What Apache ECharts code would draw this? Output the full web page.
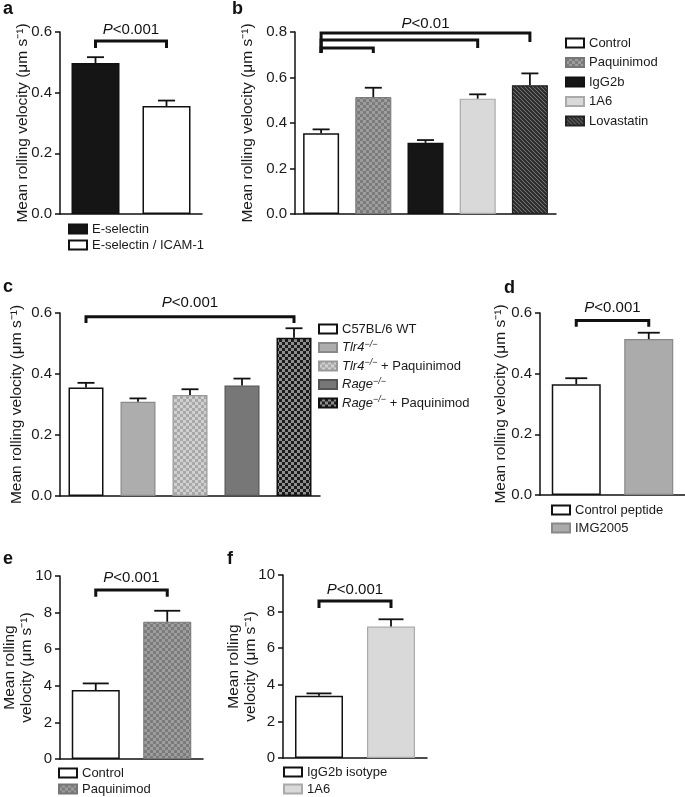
<!DOCTYPE html>
<html><head><meta charset="utf-8">
<script src="https://cdn.jsdelivr.net/npm/echarts@6/dist/echarts.min.js"></script>
<style>html,body{margin:0;padding:0;background:#fff}#c{width:685px;height:797px}</style>
</head><body><div id="c"></div>
<script>
// ---------- data ----------
const catsA = ['E-selectin', 'E-selectin / ICAM-1'];
const meanA = [0.498, 0.356];
const errA  = [0.019, 0.018];

const catsB = ['Control', 'Paquinimod', 'IgG2b', '1A6', 'Lovastatin'];
const meanB = [0.355, 0.514, 0.313, 0.507, 0.566];
const errB  = [0.017, 0.041, 0.012, 0.019, 0.052];

const catsC = ['C57BL/6 WT', 'Tlr4−/−', 'Tlr4−/− + Paquinimod', 'Rage−/−', 'Rage−/− + Paquinimod'];
const meanC = [0.356, 0.309, 0.331, 0.362, 0.519];
const errC  = [0.015, 0.011, 0.019, 0.023, 0.031];

const catsD = ['Control peptide', 'IMG2005'];
const meanD = [0.365, 0.514];
const errD  = [0.020, 0.021];

const catsE = ['Control', 'Paquinimod'];
const meanE = [3.77, 7.50];
const errE  = [0.36, 0.60];

const catsF = ['IgG2b isotype', '1A6'];
const meanF = [3.40, 7.18];
const errF  = [0.13, 0.40];

// significance brackets: [fromIndex, toIndex, top, leftLegBottom, rightLegBottom]
const bracketsA = [[0, 1, 0.570, 0.547, 0.547]];
const bracketsB = [[0, 4, 0.796, 0.708, 0.756], [0, 3, 0.765, 0.708, 0.730], [0, 1, 0.730, 0.708, 0.708]];
const bracketsC = [[0, 4, 0.588, 0.567, 0.567]];
const bracketsD = [[0, 1, 0.575, 0.555, 0.555]];
const bracketsE = [[0, 1, 9.23, 8.87, 8.87]];
const bracketsF = [[0, 1, 8.58, 8.20, 8.20]];
const pA = '<0.001', pB = '<0.01', pC = '<0.001', pD = '<0.001', pE = '<0.001', pF = '<0.001';

const yTicksA = [0, 0.6, 0.2], yTicksB = [0, 0.8, 0.2], yTicksE = [0, 10, 2];
const yNameLong = 'Mean rolling velocity (μm s⁻¹)';
const yNameTwo = 'Mean rolling\nvelocity (μm s⁻¹)';

// ---------- styles ----------
const FF = '"Liberation Sans", Arial, Helvetica, sans-serif';
function checker(c1, c2, s) {
  const cv = document.createElement('canvas'); cv.width = cv.height = s * 2;
  const g = cv.getContext('2d');
  g.fillStyle = c1; g.fillRect(0, 0, 2 * s, 2 * s);
  g.fillStyle = c2; g.fillRect(0, 0, s, s); g.fillRect(s, s, s, s);
  return { image: cv, repeat: 'repeat' };
}
function stripes(bg, fg, p) {
  const cv = document.createElement('canvas'); cv.width = cv.height = p;
  const g = cv.getContext('2d');
  g.fillStyle = bg; g.fillRect(0, 0, p, p);
  g.strokeStyle = fg; g.lineWidth = p * 0.55;
  g.beginPath();
  g.moveTo(-1, -1); g.lineTo(p + 1, p + 1);
  g.moveTo(-1, p - 1); g.lineTo(1, p + 1);
  g.moveTo(p - 1, -1); g.lineTo(p + 1, 1);
  g.stroke();
  return { image: cv, repeat: 'repeat' };
}
const white = { color: '#ffffff', borderColor: '#111', borderWidth: 1.5 };
const styles = {
  'E-selectin': { color: '#151515', borderColor: '#111', borderWidth: 1.5 },
  'E-selectin / ICAM-1': white,
  'Control': white,
  'Paquinimod': { color: checker('#9d9d9d', '#7b7b7b', 3), borderColor: '#777', borderWidth: 1 },
  'IgG2b': { color: '#161616', borderColor: '#111', borderWidth: 1.5 },
  '1A6': { color: '#d9d9d9', borderColor: '#aaa', borderWidth: 1.2 },
  'Lovastatin': { color: stripes('#8d8d8d', '#2a2a2a', 4), borderColor: '#222', borderWidth: 1.2 },
  'C57BL/6 WT': white,
  'Tlr4−/−': { color: '#adadad', borderColor: '#8a8a8a', borderWidth: 1.2 },
  'Tlr4−/− + Paquinimod': { color: checker('#d0d0d0', '#a8a8a8', 3), borderColor: '#999', borderWidth: 1.2 },
  'Rage−/−': { color: '#777777', borderColor: '#555', borderWidth: 1.2 },
  'Rage−/− + Paquinimod': { color: checker('#8e8e8e', '#1c1c1c', 3), borderColor: '#111', borderWidth: 1.5 },
  'Control peptide': white,
  'IMG2005': { color: '#ababab', borderColor: '#888', borderWidth: 1.2 },
  'IgG2b isotype': white
};

// ---------- layout ----------
const panels = [
  { cats: catsA, mean: meanA, err: errA, br: bracketsA, p: pA, ticks: yTicksA, dec: 1, name: yNameLong, nameGap: 29,
    grid: { left: 60, top: 32, width: 142, height: 182 }, barW: 48, cap: 17, tOff: 11,
    legend: { left: 68, top: 221, itemGap: 0 }, letter: ['a', 3, 0] },
  { cats: catsB, mean: meanB, err: errB, br: bracketsB, p: pB, ticks: yTicksB, dec: 1, name: yNameLong, nameGap: 38.5,
    grid: { left: 295, top: 32, width: 261, height: 182 }, barW: 36, cap: 17, tOff: 9,
    legend: { left: 565, top: 35, itemGap: 3.5 }, letter: ['b', 232, 0] },
  { cats: catsC, mean: meanC, err: errC, br: bracketsC, p: pC, ticks: yTicksA, dec: 1, name: yNameLong, nameGap: 35,
    grid: { left: 60, top: 313, width: 260, height: 183 }, barW: 35, cap: 17, tOff: 13.5,
    legend: { left: 318, top: 321, itemGap: 2.5 }, letter: ['c', 3, 278] },
  { cats: catsD, mean: meanD, err: errD, br: bracketsD, p: pD, ticks: yTicksA, dec: 1, name: yNameLong, nameGap: 30.5,
    grid: { left: 540, top: 313, width: 145, height: 182 }, barW: 49, cap: 22, tOff: 12.5,
    legend: { left: 551, top: 502, itemGap: 2 }, letter: ['d', 504, 279] },
  { cats: catsE, mean: meanE, err: errE, br: bracketsE, p: pE, ticks: yTicksE, dec: 0, name: yNameTwo, nameGap: 24.5,
    grid: { left: 60, top: 576, width: 143, height: 183 }, barW: 48, cap: 26, tOff: 12,
    legend: { left: 58, top: 765, itemGap: 0 }, letter: ['e', 3, 550] },
  { cats: catsF, mean: meanF, err: errF, br: bracketsF, p: pF, ticks: yTicksE, dec: 0, name: yNameTwo, nameGap: 24,
    grid: { left: 283, top: 575, width: 144, height: 183 }, barW: 48, cap: 25, tOff: 11,
    legend: { left: 283, top: 764, itemGap: 1 }, letter: ['f', 227, 550] }
];

const richLegend = {
  i: { fontStyle: 'italic', fontSize: 13, fontFamily: FF, color: '#1a1a1a' },
  s: { fontStyle: 'italic', fontSize: 9, fontFamily: FF, color: '#1a1a1a', verticalAlign: 'top', padding: [0, 0, 5, 0] },
  n: { fontSize: 13, fontFamily: FF, color: '#1a1a1a' }
};
function legendFmt(n) {
  const m = n.match(/^(Tlr4|Rage)−\/−(.*)$/);
  if (m) return '{i|' + m[1] + '}{s|−/−}' + (m[2] ? '{n|' + m[2] + '}' : '');
  return '{n|' + n + '}';
}

const option = { animation: false, backgroundColor: '#fff', grid: [], xAxis: [], yAxis: [], series: [], legend: [], graphic: [] };

panels.forEach((P, k) => {
  option.grid.push(Object.assign({ containLabel: false }, P.grid));
  option.xAxis.push({
    gridIndex: k, type: 'category', data: P.cats,
    axisLine: { show: true, lineStyle: { color: '#111', width: 1.5 } },
    axisTick: { show: false }, axisLabel: { show: false }
  });
  option.yAxis.push({
    gridIndex: k, type: 'value', min: P.ticks[0], max: P.ticks[1], interval: P.ticks[2],
    axisLine: { show: true, lineStyle: { color: '#111', width: 1.5 } },
    axisTick: { show: true, length: 5, lineStyle: { color: '#111', width: 1.5 } },
    splitLine: { show: false },
    axisLabel: { fontSize: 15, color: '#1a1a1a', fontFamily: FF, margin: 8, formatter: v => v.toFixed(P.dec) },
    name: P.name, nameLocation: 'middle', nameGap: P.nameGap, nameMoveOverlap: false,
    nameTextStyle: { fontSize: 15.5, color: '#1a1a1a', fontFamily: FF, lineHeight: 17 }
  });
  P.cats.forEach((c, i) => {
    option.series.push({
      type: 'bar', name: c, xAxisIndex: k, yAxisIndex: k,
      data: P.mean.map((v, j) => (j === i ? v : '-')),
      barWidth: P.barW, barGap: '-100%',
      itemStyle: styles[c], emphasis: { disabled: true }, z: 2
    });
  });
  // error bars
  const cap = P.cap;
  option.series.push({
    type: 'custom', xAxisIndex: k, yAxisIndex: k, z: 3, silent: true,
    data: P.mean.map((v, i) => [i, v, v + P.err[i]]),
    renderItem: (params, api) => {
      const x = api.value(0);
      const p0 = api.coord([x, api.value(1)]), p1 = api.coord([x, api.value(2)]);
      const st = { stroke: '#111', lineWidth: 1.8 };
      return { type: 'group', children: [
        { type: 'line', shape: { x1: p0[0], y1: p0[1], x2: p1[0], y2: p1[1] }, style: st },
        { type: 'line', shape: { x1: p1[0] - cap / 2, y1: p1[1], x2: p1[0] + cap / 2, y2: p1[1] }, style: st }
      ] };
    }
  });
  // brackets
  const tOff = P.tOff, ptxt = P.p;
  option.series.push({
    type: 'custom', xAxisIndex: k, yAxisIndex: k, z: 4, silent: true,
    data: P.br,
    renderItem: (params, api) => {
      const i0 = api.value(0), i1 = api.value(1);
      const a = api.coord([i0, api.value(2)]), b = api.coord([i1, api.value(2)]);
      const lb = api.coord([i0, api.value(3)]), rb = api.coord([i1, api.value(4)]);
      const ch = [{ type: 'polyline', shape: { points: [lb, a, b, rb] },
        style: { stroke: '#111', lineWidth: 3, fill: null, lineJoin: 'miter' } }];
      if (params.dataIndex === 0) {
        ch.push({ type: 'text', x: (a[0] + b[0]) / 2, y: a[1] - tOff,
          style: { text: '{i|P}{n|' + ptxt + '}', align: 'center', verticalAlign: 'middle',
            fontSize: 15, fontFamily: FF, fill: '#111',
            rich: { i: { fontStyle: 'italic', fontSize: 15, fontFamily: FF, color: '#111' },
                    n: { fontSize: 15, fontFamily: FF, color: '#111' } } } });
      }
      return { type: 'group', children: ch };
    }
  });
  option.legend.push({
    orient: 'vertical', left: P.legend.left, top: P.legend.top, itemGap: P.legend.itemGap,
    itemWidth: 18, itemHeight: 9, icon: 'rect', selectedMode: false, padding: 0,
    data: P.cats.slice(),
    formatter: legendFmt,
    textStyle: { fontSize: 13, color: '#1a1a1a', fontFamily: FF, lineHeight: 16, rich: richLegend }
  });
  option.graphic.push({ type: 'text', left: P.letter[1], top: P.letter[2],
    style: { text: P.letter[0], font: 'bold 18px ' + FF, fill: '#111' } });
});

const chart = echarts.init(document.getElementById('c'), null, { renderer: 'canvas' });
chart.setOption(option);
</script>
</body></html>
